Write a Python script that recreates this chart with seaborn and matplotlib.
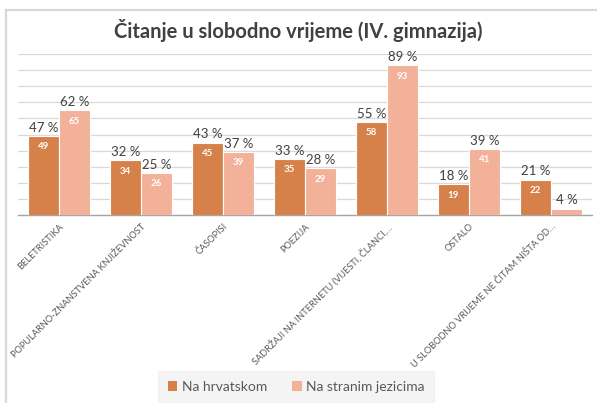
import matplotlib
matplotlib.use('Agg')
import matplotlib.pyplot as plt
import seaborn as sns
import pandas as pd
from matplotlib.patches import Rectangle

# ------------------------------------------------------------
# data
# ------------------------------------------------------------
categories = [
    'BELETRISTIKA',
    'POPULARNO-ZNANSTVENA KNJIŽEVNOST',
    'ČASOPISI',
    'POEZIJA',
    'SADRŽAJI NA INTERNETU (VIJESTI, ČLANCI,…',
    'OSTALO',
    'U SLOBODNO VRIJEME NE ČITAM NIŠTA OD…',
]
series = ['Na hrvatskom', 'Na stranim jezicima']
counts_hr  = [49, 34, 45, 35, 58, 19, 22]
counts_str = [65, 26, 39, 29, 93, 41, 4]
pct_hr  = [47, 32, 43, 33, 55, 18, 21]
pct_str = [62, 25, 37, 28, 89, 39, 4]

DARK  = '#D6814A'
LIGHT = '#F4B19A'
GREY_TXT = '#595959'

df = pd.DataFrame({
    'kategorija': categories * 2,
    'jezik': [series[0]] * len(categories) + [series[1]] * len(categories),
    'broj': counts_hr + counts_str,
})

# ------------------------------------------------------------
# plot
# ------------------------------------------------------------
sns.set_style('white')
plt.rcParams['font.family'] = ['Lato', 'DejaVu Sans']

fig = plt.figure(figsize=(5.97, 4.03), dpi=100)
ax = fig.add_axes([18 / 597, 1 - 215 / 403, 574 / 597, 161 / 403])

# chart frame (excel-like)
fig.patches.append(Rectangle((6 / 597, -0.1), 1.2, 1 - 10 / 403 + 0.1,
                             transform=fig.transFigure, fill=False,
                             edgecolor='#d9d9d9', lw=1.6, zorder=0))

sns.barplot(data=df, x='kategorija', y='broj', hue='jezik',
            palette=[DARK, LIGHT], saturation=1, width=0.76, gap=0,
            edgecolor='white', linewidth=0.8, ax=ax, zorder=3)

ax.set_ylim(0, 100)
ax.set_xlim(-0.5, len(categories) - 0.5)
ax.set_yticks(range(0, 101, 10))
ax.yaxis.grid(True, color='#d9d9d9', lw=0.9, zorder=0)
ax.set_axisbelow(True)
ax.tick_params(axis='y', length=0, labelleft=False)
ax.tick_params(axis='x', length=0, pad=5)
for s in ['left', 'right', 'top']:
    ax.spines[s].set_visible(False)
ax.spines['bottom'].set_color('#a6a6a6')
ax.spines['bottom'].set_linewidth(1.0)
ax.set_xlabel('')
ax.set_ylabel('')

ax.set_xticks(range(len(categories)))
ax.set_xticklabels(categories, rotation=45, ha='right', va='top',
                   rotation_mode='anchor', fontsize=6.7, color=GREY_TXT)

# labels: counts inside, percentages on top
for cont, cnt, pct in zip(ax.containers, [counts_hr, counts_str], [pct_hr, pct_str]):
    inner = [str(c) if c >= 10 else '' for c in cnt]
    ax.bar_label(cont, labels=inner, padding=-11, color='white',
                 fontsize=7, fontweight='bold')
    ax.bar_label(cont, labels=[f'{p} %' for p in pct], padding=1.5,
                 color='#404040', fontsize=9.5)

fig.text(0.5, 1 - 30 / 403, 'Čitanje u slobodno vrijeme (IV. gimnazija)',
         ha='center', va='center', fontsize=14.5, fontweight='bold', color='#404040')

leg = ax.legend(loc='center', bbox_to_anchor=(296 / 597, 1 - 387 / 403),
                bbox_transform=fig.transFigure, ncol=2, frameon=True,
                fontsize=10, handlelength=0.7, handleheight=0.7,
                handletextpad=0.3, columnspacing=1.8, borderpad=0.7)
leg.get_frame().set_facecolor('#f2f2f2')
leg.get_frame().set_edgecolor('#f2f2f2')
leg.get_frame().set_boxstyle('square', pad=0)
for t in leg.get_texts():
    t.set_color(GREY_TXT)
for h in leg.legend_handles:
    h.set_edgecolor('none')

fig.savefig('out.png', dpi=100)
